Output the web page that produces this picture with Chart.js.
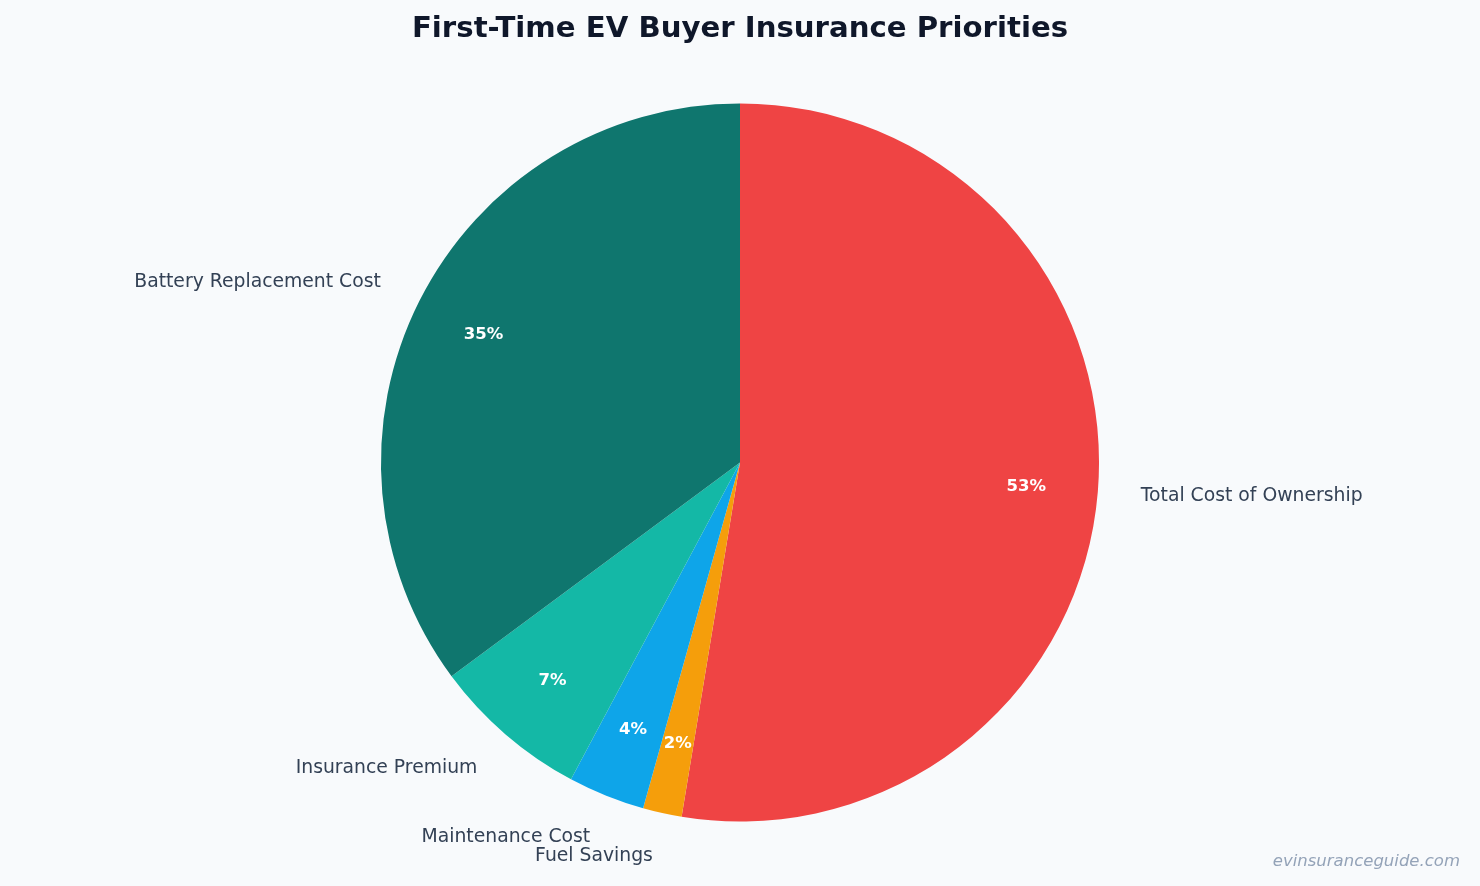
<!DOCTYPE html>
<html>
<head>
<meta charset="utf-8">
<script src="https://cdn.jsdelivr.net/npm/chart.js@4/dist/chart.umd.min.js"></script>
<style>
  html, body { margin: 0; padding: 0; background: #f8fafc; }
  #wrap { width: 1480px; height: 886px; position: relative; }
</style>
</head>
<body>
<div id="wrap"><canvas id="c" width="1480" height="886"></canvas></div>
<script>
const categories = ["Total Cost of Ownership", "Fuel Savings", "Maintenance Cost", "Insurance Premium", "Battery Replacement Cost"];
const shares = [52.6, 1.75, 3.45, 7.05, 35.15];
const pctLabels = ["53%", "2%", "4%", "7%", "35%"];
const colors = ["#ef4444", "#f59e0b", "#0ea5e9", "#14b8a6", "#0f766e"];
const titleText = "First-Time EV Buyer Insurance Priorities";
const watermark = "evinsuranceguide.com";

const labelPlugin = {
  id: 'sliceLabels',
  afterDatasetsDraw(chart) {
    const ctx = chart.ctx;
    const meta = chart.getDatasetMeta(0);
    ctx.save();
    meta.data.forEach((arc, i) => {
      const p = arc.getProps(['x', 'y', 'startAngle', 'endAngle', 'outerRadius'], true);
      const mid = (p.startAngle + p.endAngle) / 2;
      const cx = Math.cos(mid), cy = Math.sin(mid);
      // outer category label
      const lr = p.outerRadius * 1.12;
      const lx = p.x + cx * lr, ly = p.y + cy * lr + 1;
      ctx.font = '18.8px "DejaVu Sans"';
      ctx.fillStyle = '#334155';
      ctx.textBaseline = 'middle';
      ctx.textAlign = cx >= 0 ? 'left' : 'right';
      ctx.fillText(categories[i], lx, ly);
      // percent label
      const pr = p.outerRadius * 0.8;
      ctx.font = 'bold 16.5px "DejaVu Sans"';
      ctx.fillStyle = '#ffffff';
      ctx.textAlign = 'center';
      ctx.fillText(pctLabels[i], p.x + cx * pr, p.y + cy * pr + 1);
    });
    ctx.font = 'italic 16.5px "DejaVu Sans"';
    ctx.fillStyle = '#94a3b8';
    ctx.textAlign = 'right';
    ctx.textBaseline = 'middle';
    ctx.fillText(watermark, 1460, 862);
    ctx.restore();
  }
};

new Chart(document.getElementById('c'), {
  type: 'pie',
  data: {
    labels: categories,
    datasets: [{
      data: shares,
      backgroundColor: colors,
      borderWidth: 0
    }]
  },
  options: {
    responsive: false,
    animation: false,
    layout: { padding: { top: 0, bottom: 64.5, left: 0, right: 0 } },
    plugins: {
      legend: { display: false },
      tooltip: { enabled: false },
      title: {
        display: true,
        text: titleText,
        color: '#0f172a',
        font: { family: 'DejaVu Sans', size: 29.2, weight: 'bold', lineHeight: 1.2 },
        padding: { top: 11.5, bottom: 56.9 }
      }
    }
  },
  plugins: [labelPlugin]
});
</script>
</body>
</html>
